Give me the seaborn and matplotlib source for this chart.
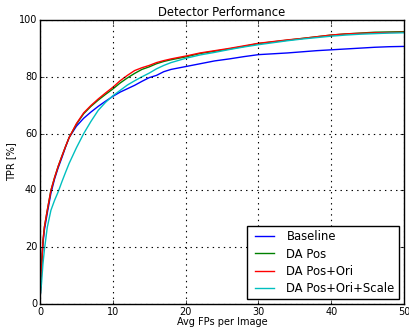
import numpy as np
import pandas as pd
import matplotlib
matplotlib.use("Agg")
import matplotlib.pyplot as plt
import seaborn as sns

# valeurs
fps = [0, 0.2, 0.4, 0.6, 1, 1.5, 2, 2.5, 3, 3.5, 4, 5, 6, 7, 8, 9, 10, 11, 12, 13, 14, 15, 16, 17, 18,
       20, 22, 24, 26, 28, 30, 32, 34, 36, 38, 40, 42, 44, 46, 48, 50]

baseline = [1, 12, 21, 26, 32, 39, 44, 48, 51.5, 55.2, 58.6, 62.6, 65.4, 67.6, 69.6, 71.4, 73.1, 74.6, 75.8, 77.0,
            78.4, 79.7, 80.5, 81.8, 82.6, 83.6, 84.6, 85.6, 86.3, 87.1, 87.8, 88.1, 88.4, 88.8, 89.2, 89.5,
            89.8, 90.1, 90.4, 90.6, 90.7]
da_pos = [1, 12, 22, 27, 33, 40, 44.5, 48.5, 52, 55.4, 58.6, 63.3, 67, 69.6, 71.8, 73.8, 75.7, 77.8, 79.6, 81.2,
          82.6, 83.5, 84.6, 85.4, 86.0, 87.0, 88.2, 89.0, 89.8, 90.7, 91.7, 92.3, 92.9, 93.5, 94.1, 94.7,
          95.1, 95.4, 95.7, 95.8, 95.9]
da_pos_ori = [1, 12, 22, 27, 33, 40, 44.5, 48.5, 52, 55.4, 58.6, 63.5, 67.3, 69.9, 72.2, 74.3, 76.3, 78.6, 80.5, 82.2,
              83.2, 84.0, 85.0, 85.7, 86.3, 87.3, 88.4, 89.2, 90.0, 90.9, 91.8, 92.4, 93.0, 93.5, 94.1, 94.7,
              95.1, 95.3, 95.5, 95.6, 95.7]
da_pos_ori_scale = [2, 7, 14, 19, 27, 33, 36.5, 39.5, 43, 46.3, 49.5, 55, 60, 64.3, 68.2, 71, 73.3, 75.2, 77.1, 78.6,
                    80.0, 81.3, 82.8, 84.0, 85.0, 86.5, 87.7, 88.6, 89.6, 90.5, 91.3, 92.0, 92.7, 93.3, 93.8, 94.3,
                    94.7, 95.0, 95.2, 95.4, 95.5]

series = {
    'Baseline': baseline,
    'DA Pos': da_pos,
    'DA Pos+Ori': da_pos_ori,
    'DA Pos+Ori+Scale': da_pos_ori_scale,
}
couleurs = ['b', 'g', 'r', 'c']

# mise en forme longue pour seaborn
df = pd.concat([pd.DataFrame({'fp': fps, 'tpr': v, 'methode': k}) for k, v in series.items()])

plt.style.use('classic')
plt.rcParams['font.family'] = ['DejaVu Sans']

fig = plt.figure(figsize=(4.09, 3.28), dpi=100, facecolor='white')
ax = fig.add_axes([40 / 409, 1 - 304 / 328, 364 / 409, 284 / 328])

sns.lineplot(data=df, x='fp', y='tpr', hue='methode', palette=couleurs, linewidth=1.0,
             estimator=None, sort=False, ax=ax)

ax.set_xlim(0, 50)
ax.set_ylim(0, 100)
ax.set_xticks([0, 10, 20, 30, 40, 50])
ax.set_yticks([0, 20, 40, 60, 80, 100])
ax.tick_params(labelsize=7, length=3, pad=2)
ax.grid(True, color='black', linestyle=':', linewidth=0.8)
ax.set_title('Detector Performance', fontsize=8.3, pad=3)
ax.set_xlabel('Avg FPs per Image', fontsize=7, labelpad=0)
ax.set_ylabel('TPR [%]', fontsize=7, labelpad=2)

leg = ax.legend(loc='lower right', fontsize=8.4, frameon=True, fancybox=False, borderaxespad=0.4,
                handlelength=2.2, labelspacing=0.35)
leg.get_frame().set_edgecolor('black')
leg.get_frame().set_linewidth(1.0)

fig.savefig('out.png', dpi=100, facecolor='white')
